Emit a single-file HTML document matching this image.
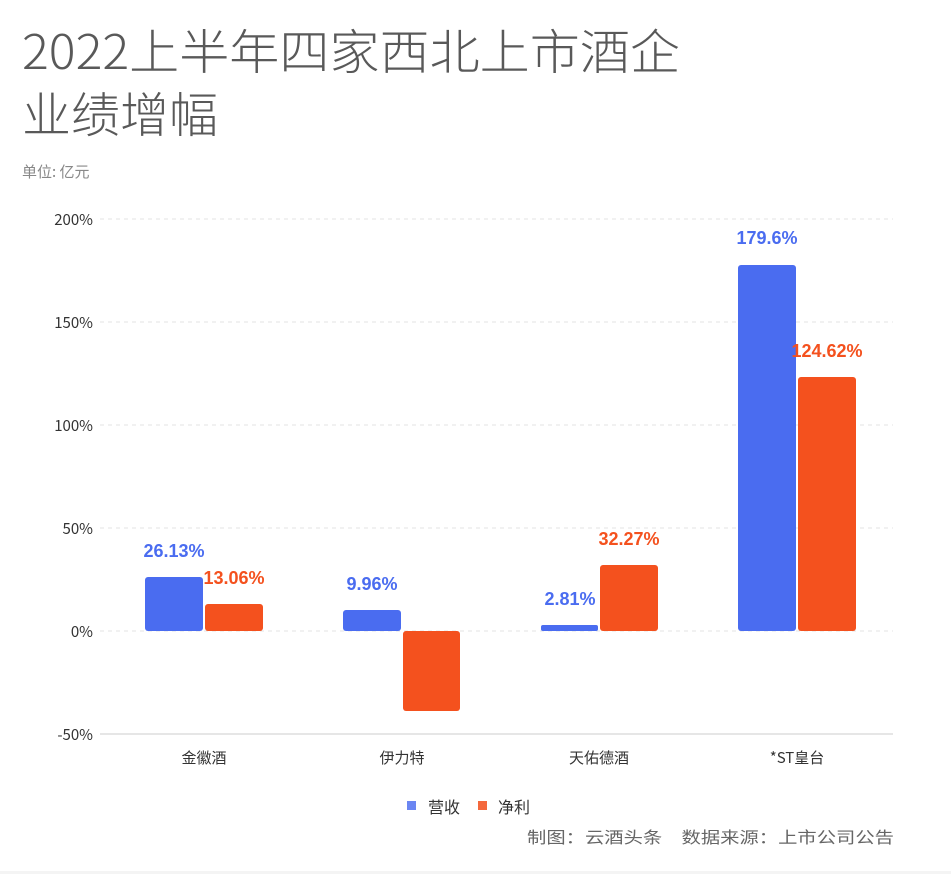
<!DOCTYPE html>
<html><head><meta charset="utf-8"><style>
body{margin:0;background:#fff;}
svg{display:block;font-family:"Liberation Sans","Noto Sans CJK SC",sans-serif;}
</style></head><body>
<svg width="951" height="874" viewBox="0 0 951 874">
<rect width="951" height="874" fill="#fff"/>
<text x="22" y="69" font-size="48" fill="#595959" font-family="'Noto Sans CJK SC',sans-serif" font-weight="300" textLength="658" lengthAdjust="spacingAndGlyphs">2022上半年四家西北上市酒企</text>
<text x="22" y="132" font-size="48" fill="#595959" font-family="'Noto Sans CJK SC',sans-serif" font-weight="300" textLength="196" lengthAdjust="spacingAndGlyphs">业绩增幅</text>
<text x="22" y="177" font-size="15" fill="#888" font-family="'Noto Sans CJK SC',sans-serif">单位: 亿元</text>
<g stroke="#e3e3e3" stroke-dasharray="4,4">
<line x1="100" x2="893" y1="219" y2="219"/><line x1="100" x2="893" y1="322" y2="322"/>
<line x1="100" x2="893" y1="425" y2="425"/><line x1="100" x2="893" y1="528" y2="528"/>
<line x1="100" x2="893" y1="631" y2="631"/>
</g>
<line x1="100" x2="893" y1="734" y2="734" stroke="#ccc"/>
<g font-size="15" fill="#333" text-anchor="end" font-family="'Noto Sans CJK SC',sans-serif">
<text x="93" y="225">200%</text><text x="93" y="328">150%</text><text x="93" y="431">100%</text>
<text x="93" y="534">50%</text><text x="93" y="637">0%</text><text x="93" y="740">-50%</text>
</g>
<g fill="#4a6cf0">
<rect x="145" y="577" width="58" height="54" rx="3"/>
<rect x="343" y="610" width="58" height="21" rx="3"/>
<rect x="541" y="625" width="57" height="6" rx="2"/>
<rect x="738" y="265" width="58" height="366" rx="3"/>
</g>
<g fill="#f4511e">
<rect x="205" y="604" width="58" height="27" rx="3"/>
<rect x="403" y="631" width="57" height="80" rx="3"/>
<rect x="600" y="565" width="58" height="66" rx="3"/>
<rect x="798" y="377" width="58" height="254" rx="3"/>
</g>
<g font-size="18" font-weight="bold" text-anchor="middle">
<text x="174" y="557" fill="#4a6cf0">26.13%</text>
<text x="234" y="584" fill="#f4511e">13.06%</text>
<text x="372" y="590" fill="#4a6cf0">9.96%</text>
<text x="570" y="605" fill="#4a6cf0">2.81%</text>
<text x="629" y="545" fill="#f4511e">32.27%</text>
<text x="767" y="244" fill="#4a6cf0">179.6%</text>
<text x="827" y="357" fill="#f4511e">124.62%</text>
</g>
<g font-size="15" fill="#333" text-anchor="middle" font-family="'Noto Sans CJK SC',sans-serif">
<text x="204" y="763">金徽酒</text><text x="402" y="763">伊力特</text>
<text x="599" y="763">天佑德酒</text><text x="797" y="763">*ST皇台</text>
</g>
<rect x="407" y="801" width="9" height="9" fill="#6b86f2"/>
<text x="428" y="813" font-size="16" fill="#333" font-family="'Noto Sans CJK SC',sans-serif">营收</text>
<rect x="478" y="801" width="9" height="9" fill="#f4683c"/>
<text x="498" y="813" font-size="16" fill="#333" font-family="'Noto Sans CJK SC',sans-serif">净利</text>
<text x="527" y="843" font-size="16" fill="#666" font-family="'Noto Sans CJK SC',sans-serif" textLength="367" lengthAdjust="spacingAndGlyphs">制图：云酒头条　数据来源：上市公司公告</text>
<rect x="0" y="871" width="951" height="3" fill="#f4f4f4"/>
</svg>
</body></html>
